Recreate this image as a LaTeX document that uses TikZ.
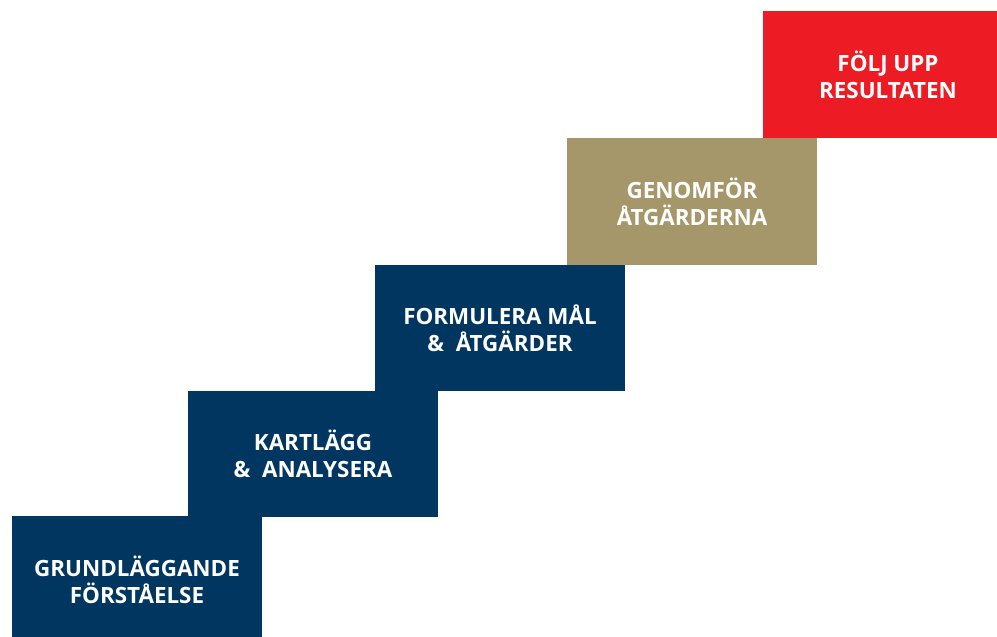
\documentclass[tikz,border=0pt]{standalone}
\usepackage{fontspec}
\setmainfont{Open Sans}
\definecolor{navy}{HTML}{003660}
\definecolor{khaki}{HTML}{A6976B}
\definecolor{stepred}{HTML}{ED1C24}
\tikzset{
  stepbox/.style={anchor=north west, minimum width=250pt, inner sep=0pt, outer sep=0pt,
    text=white, align=center, font=\bfseries\fontsize{22.4}{27}\selectfont},
}
\begin{document}
\begin{tikzpicture}[x=1pt,y=-1pt]
\useasboundingbox (0,0) rectangle (997,637);
\clip (0,0) rectangle (997,637);
\node[stepbox, fill=navy, minimum height=127pt] (s1) at (12,516) {GRUNDLÄGGANDE\\FÖRSTÅELSE};
\node[stepbox, fill=navy, minimum height=126pt] (s2) at (188,391) {KARTLÄGG\\\&\ \ ANALYSERA};
\node[stepbox, fill=navy, minimum height=126pt] (s3) at (375,265) {FORMULERA MÅL\\\&\ \ ÅTGÄRDER};
\node[stepbox, fill=khaki, minimum height=127pt] (s4) at (567,138) {GENOMFÖR\\ÅTGÄRDERNA};
\node[stepbox, fill=stepred, minimum height=127pt] (s5) at (763,11) {FÖLJ UPP\\RESULTATEN};
\end{tikzpicture}
\end{document}
